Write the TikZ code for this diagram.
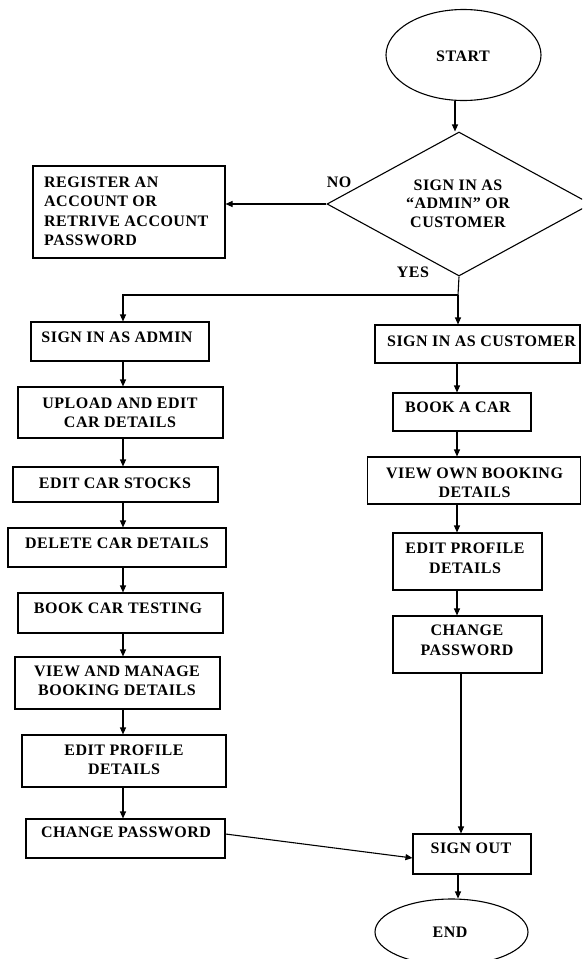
\documentclass[tikz,border=0pt]{standalone}
\usepackage{fontspec}
\setmainfont{Liberation Serif}[LetterSpace=3]
\usetikzlibrary{shapes.geometric,arrows.meta}
\begin{document}
\begin{tikzpicture}[x=1pt,y=-1pt,
  box/.style={draw, line width=1.1pt, inner sep=0pt},
  txt/.style={font=\fontsize{16}{19.5}\selectfont\bfseries, inner sep=0pt, align=center, text depth=0pt},
  arr/.style={line width=1.1pt, -{Triangle[length=7pt,width=6pt]}},
  ln/.style={line width=1.1pt}]
\useasboundingbox (0,0) rectangle (582,959);
\clip (0,0) rectangle (582,959);
\fill[white] (0,0) rectangle (582,959);

% shapes
\node[box, ellipse, minimum width=155pt, minimum height=91pt] (start) at (463.5,55) {};
\node[box, diamond, minimum width=264pt, minimum height=144pt] (dec) at (459,204) {};
\node[box, minimum width=192pt, minimum height=92pt] (reg) at (129,212) {};
% left column
\node[box, minimum width=178pt, minimum height=39pt] (sadmin) at (120,341.5) {};
\node[box, minimum width=205pt, minimum height=51pt] (upload) at (120.5,412.5) {};
\node[box, minimum width=205pt, minimum height=35pt] (stocks) at (115.5,484.5) {};
\node[box, minimum width=218pt, minimum height=39pt] (delete) at (117,547.5) {};
\node[box, minimum width=205pt, minimum height=40pt] (testing) at (120.5,613) {};
\node[box, minimum width=205pt, minimum height=52pt] (manage) at (117.5,683) {};
\node[box, minimum width=204pt, minimum height=52pt] (lprofile) at (124,761) {};
\node[box, minimum width=199pt, minimum height=39pt] (lpass) at (125.5,838.5) {};
% right column
\node[box, minimum width=205pt, minimum height=38pt] (scust) at (477.5,344) {};
\node[box, minimum width=138pt, minimum height=38pt] (bookcar) at (462,412) {};
\node[box, minimum width=213pt, minimum height=47pt] (viewown) at (474,480.5) {};
\node[box, minimum width=149pt, minimum height=57pt] (rprofile) at (467.5,561.5) {};
\node[box, minimum width=149pt, minimum height=57pt] (rpass) at (467.5,644.5) {};
\node[box, minimum width=118pt, minimum height=40pt] (signout) at (472,854) {};
\node[box, ellipse, minimum width=153pt, minimum height=66pt] (endn) at (451.5,932) {};

% texts
\node[txt] (startt) at (463,56) {START};
\node[txt, font=\fontsize{16}{18.5}\selectfont\bfseries] (dect) at (458,203.5) {SIGN IN AS\\``ADMIN'' OR\\CUSTOMER};
\node[txt] (no) at (339,182) {NO};
\node[txt] (yes) at (413,272) {YES};
\node[txt, align=left, anchor=west] (regt) at (44,211) {REGISTER AN\\ACCOUNT OR\\RETRIVE ACCOUNT\\PASSWORD};
\node[txt] (sadmint) at (117,337) {SIGN IN AS ADMIN};
\node[txt] (uploadt) at (120,412.5) {UPLOAD AND EDIT\\CAR DETAILS};
\node[txt] (stockst) at (115,483) {EDIT CAR STOCKS};
\node[txt] (deletet) at (117,543) {DELETE CAR DETAILS};
\node[txt] (testingt) at (118,608) {BOOK CAR TESTING};
\node[txt] (managet) at (117,680.5) {VIEW AND MANAGE\\BOOKING DETAILS};
\node[txt] (lprofilet) at (124,759.5) {EDIT PROFILE\\DETAILS};
\node[txt] (lpasst) at (126,832) {CHANGE PASSWORD};
\node[txt] (scustt) at (481.5,341) {SIGN IN AS CUSTOMER};
\node[txt] (bookcart) at (458,407) {BOOK A CAR};
\node[txt] (viewownt) at (474.5,482.5) {VIEW OWN BOOKING\\DETAILS};
\node[txt] (rprofilet) at (465,558) {EDIT PROFILE\\DETAILS};
\node[txt] (rpasst) at (467,640) {CHANGE\\PASSWORD};
\node[txt] (signoutt) at (471,848) {SIGN OUT};
\node[txt] (endt) at (450,932) {END};

% helper coordinates
\coordinate (X0) at (455,0);
\coordinate (J) at (458,295);
\coordinate (K) at (123,295);
\coordinate (R) at (457,0);
\coordinate (R2) at (461,0);

% connectors
\draw[arr] (start.south -| X0) -- (dec.north -| X0);
\draw[arr] (dec.west) -- (reg.east |- dec.west);
\draw[ln] (dec.south) -- (J);
\draw[arr] (J) -- (K) -- (sadmin.north -| K);
\draw[arr] (J) -- (scust.north -| J);
\draw[arr] (sadmin.south -| K) -- (upload.north -| K);
\draw[arr] (upload.south -| K) -- (stocks.north -| K);
\draw[arr] (stocks.south -| K) -- (delete.north -| K);
\draw[arr] (delete.south -| K) -- (testing.north -| K);
\draw[arr] (testing.south -| K) -- (manage.north -| K);
\draw[arr] (manage.south -| K) -- (lprofile.north -| K);
\draw[arr] (lprofile.south -| K) -- (lpass.north -| K);
\draw[arr] (scust.south -| R) -- (bookcar.north -| R);
\draw[arr] (bookcar.south -| R) -- (viewown.north -| R);
\draw[arr] (viewown.south -| R) -- (rprofile.north -| R);
\draw[arr] (rprofile.south -| R) -- (rpass.north -| R);
\draw[arr] (rpass.south -| R2) -- (signout.north -| R2);
\draw[arr] ([yshift=4.5pt]lpass.east) -- ([yshift=-4pt]signout.west);
\draw[arr] (signout.south -| J) -- (endn.north -| J);
\end{tikzpicture}
\end{document}
